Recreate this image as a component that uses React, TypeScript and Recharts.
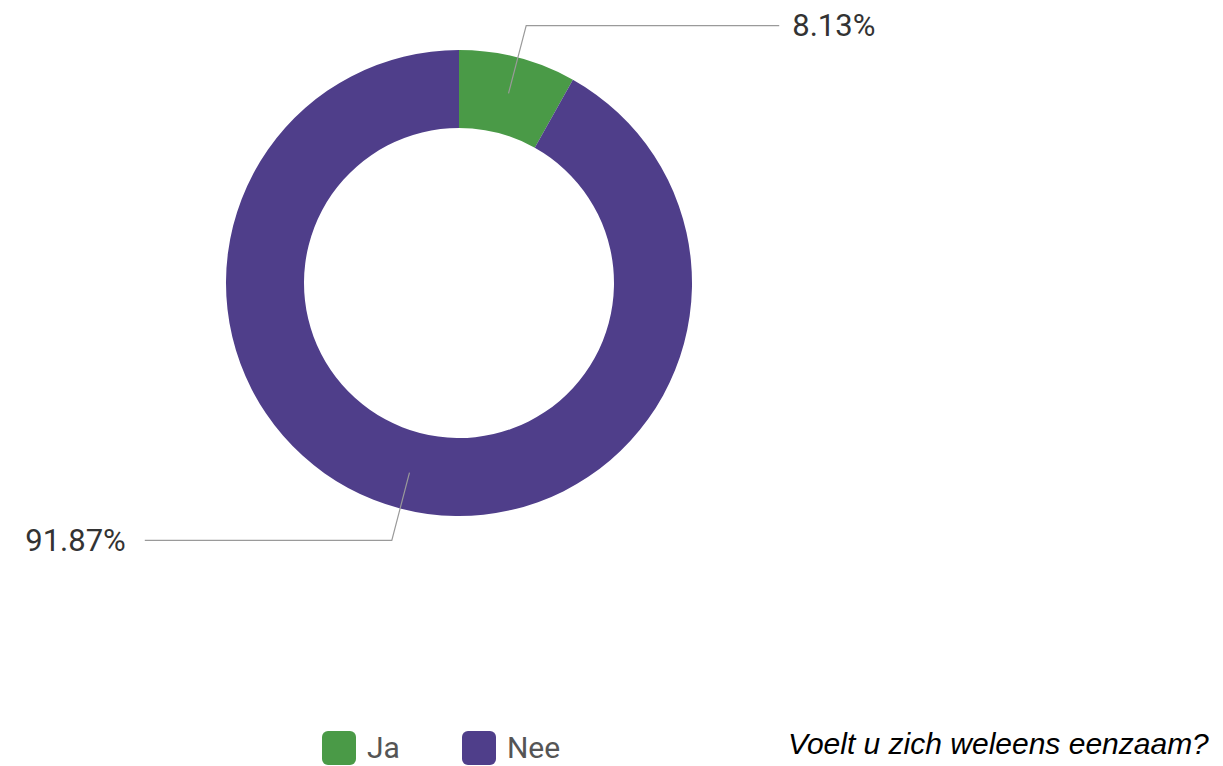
import React from 'react';
import { PieChart, Pie, Cell, Legend } from 'recharts';

const categories = ['Ja', 'Nee'];
const values = [8.13, 91.87];
const colors = ['#4a9a47', '#4f3e8a'];
const title = 'Voelt u zich weleens eenzaam?';

const data = categories.map((name, i) => ({ name, value: values[i] }));

const RAD = Math.PI / 180;

const renderLabel = (props: any) => {
  const { cx, cy, midAngle, outerRadius, value } = props;
  const cos = Math.cos(-midAngle * RAD);
  const sin = Math.sin(-midAngle * RAD);
  const r1 = outerRadius - 37;
  const r2 = outerRadius + 33;
  const sx = cx + r1 * cos;
  const sy = cy + r1 * sin;
  const mx = cx + r2 * cos;
  const my = cy + r2 * sin;
  const right = cos >= 0;
  const ex = mx + (right ? 253 : -247);
  const tx = ex + (right ? 13 : -19);
  return (
    <g>
      <polyline
        points={`${sx},${sy} ${mx},${my} ${ex},${my}`}
        fill="none"
        stroke="#9a9a9a"
        strokeWidth={1.2}
      />
      <text
        x={tx}
        y={my}
        textAnchor={right ? 'start' : 'end'}
        dominantBaseline="central"
        fill="#333"
        fontSize={31}
        fontFamily="Roboto, sans-serif"
      >
        {`${Number(value).toFixed(2)}%`}
      </text>
    </g>
  );
};

const renderLegend = () => (
  <div style={{ display: 'flex', alignItems: 'center', fontFamily: 'Roboto, sans-serif' }}>
    {data.map((d, i) => (
      <div key={d.name} style={{ display: 'flex', alignItems: 'center', marginRight: i === 0 ? 62 : 0 }}>
        <div
          style={{
            width: 34,
            height: 34,
            borderRadius: 6,
            background: colors[i],
            marginRight: 11,
          }}
        />
        <span style={{ fontSize: 30, color: '#555', lineHeight: '34px' }}>{d.name}</span>
      </div>
    ))}
  </div>
);

export default function App() {
  return (
    <div style={{ position: 'absolute', left: 0, top: 0, width: 1223, height: 766, background: '#fff' }}>
      <PieChart width={1223} height={766} margin={{ top: 0, right: 0, bottom: 0, left: 0 }}>
        <Pie
          data={data}
          dataKey="value"
          nameKey="name"
          cx={459}
          cy={283}
          innerRadius={155}
          outerRadius={233}
          startAngle={90}
          endAngle={-270}
          stroke="none"
          label={renderLabel}
          labelLine={false}
          isAnimationActive={false}
        >
          {data.map((d, i) => (
            <Cell key={d.name} fill={colors[i]} />
          ))}
        </Pie>
        <Legend
          content={renderLegend}
          wrapperStyle={{ position: 'absolute', left: 322, top: 731, width: 'auto', bottom: 'auto' }}
        />
      </PieChart>
      <div
        style={{
          position: 'absolute',
          left: 788,
          top: 727,
          fontFamily: '"Liberation Sans", Arial, sans-serif',
          fontStyle: 'italic',
          fontSize: 30,
          color: '#000',
          whiteSpace: 'nowrap',
          lineHeight: '34px',
        }}
      >
        {title}
      </div>
    </div>
  );
}
